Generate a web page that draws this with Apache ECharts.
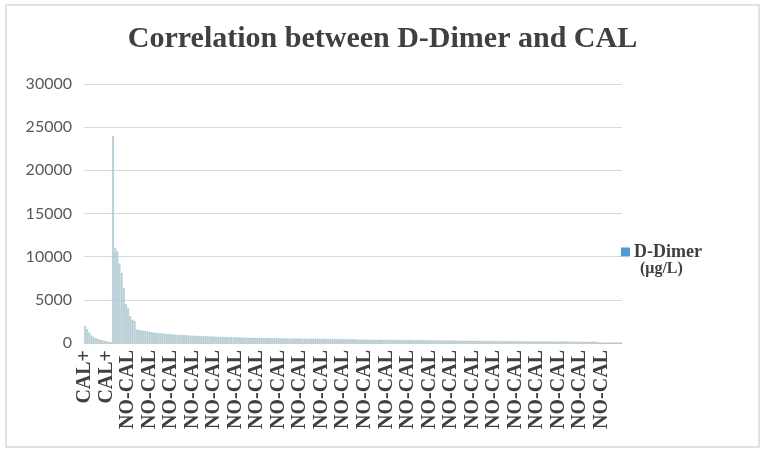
<!DOCTYPE html>
<html>
<head>
<meta charset="utf-8">
<script src="https://cdn.jsdelivr.net/npm/echarts@6/dist/echarts.min.js"></script>
<style>html,body{margin:0;padding:0;background:#fff}#c{width:765px;height:456px}</style>
</head>
<body>
<div id="c"></div>
<script>
var titleText = "Correlation between D-Dimer and CAL";
var seriesName = "D-Dimer (μg/L)";
var groupNames = ["CAL+", "NO-CAL"];
var groupCounts = [13, 237];
var yTicks = [0, 5000, 10000, 15000, 20000, 25000, 30000];

var calPlusValues = [1950,1600,1200,850,650,550,450,380,320,250,180,130,90];
var noCalValues = [
24000,11000,10600,9200,8100,6400,4500,4000,3100,2700,2550,1550,1500,1450,1420,1400,1350,1300,1250,1200,
1180,1150,1120,1100,1080,1050,1030,1000,980,960,950,930,920,900,890,870,860,850,840,820,
810,800,790,780,770,760,750,740,730,720,710,700,690,685,680,670,660,650,640,630,
625,620,615,610,605,600,595,590,585,580,575,570,565,560,555,550,545,540,535,530,
528,525,522,520,518,515,512,510,508,505,502,500,498,495,492,490,488,485,482,480,
475,470,465,460,455,450,445,440,435,430,425,420,415,410,405,400,395,390,385,380,
378,375,372,370,368,365,362,360,358,355,352,350,348,345,342,340,338,335,332,330,
328,325,322,320,318,315,312,310,305,300,298,295,292,290,288,285,282,280,278,275,
272,270,268,265,262,260,258,255,252,250,248,245,242,240,238,235,232,230,228,225,
222,220,218,215,212,210,208,205,202,200,198,196,194,192,190,188,186,185,184,182,
180,178,176,175,174,172,170,168,166,165,164,162,160,158,156,155,154,152,150,148,
146,144,142,140,138,135,
0,0,0,0,0,0,0,0,0,0,0
];

var categories = [];
for (var g = 0; g < groupNames.length; g++) {
  for (var k = 0; k < groupCounts[g]; k++) categories.push(groupNames[g]);
}
var values = calPlusValues.concat(noCalValues);

var chart = echarts.init(document.getElementById('c'));
chart.setOption({
  animation: false,
  backgroundColor: '#fff',
  title: {
    text: titleText,
    left: 'center',
    top: 19,
    textStyle: { fontFamily: 'Liberation Serif', fontWeight: 'bold', fontSize: 30, color: '#404040' }
  },
  graphic: [
    { type: 'rect', shape: { x: 6, y: 5, width: 753, height: 442 }, style: { fill: 'none', stroke: '#d9d9d9', lineWidth: 1.5 }, silent: true },
    { type: 'text', left: 640, top: 261, style: { text: '(μg/L)', fontFamily: 'Liberation Serif', fontWeight: 'bold', fontSize: 16, fill: '#404040' } }
  ],
  legend: {
    data: [seriesName],
    left: 616,
    top: 238,
    icon: 'rect',
    itemWidth: 9,
    itemHeight: 9,
    itemGap: 4,
    formatter: function () { return 'D-Dimer'; },
    itemStyle: { color: '#4f9bd4', borderWidth: 0 },
    textStyle: { fontFamily: 'Liberation Serif', fontWeight: 'bold', fontSize: 18, color: '#404040', padding: [0,0,0,-1] }
  },
  grid: { left: 84, right: 143, top: 84, bottom: 113 },
  xAxis: {
    type: 'category',
    data: categories,
    axisLine: { lineStyle: { color: '#d0d0d0' } },
    axisTick: { show: false },
    axisLabel: {
      interval: 9,
      rotate: 90,
      margin: 7,
      fontFamily: 'Liberation Serif',
      fontWeight: 'bold',
      fontSize: 20,
      color: '#404040'
    }
  },
  yAxis: {
    type: 'value',
    min: yTicks[0],
    max: yTicks[yTicks.length - 1],
    interval: 5000,
    axisLine: { show: false },
    axisTick: { show: false },
    splitLine: { lineStyle: { color: '#d9d9d9', width: 1 } },
    axisLabel: { fontFamily: 'Lato', fontSize: 16, color: '#595959', margin: 12, formatter: function (v) { return String(v); } }
  },
  series: [{
    name: seriesName,
    type: 'bar',
    data: values,
    barCategoryGap: '20%',
    itemStyle: { color: '#c8dfe5', borderColor: '#93b5bf', borderWidth: 0.5 }
  }]
});
</script>
</body>
</html>
